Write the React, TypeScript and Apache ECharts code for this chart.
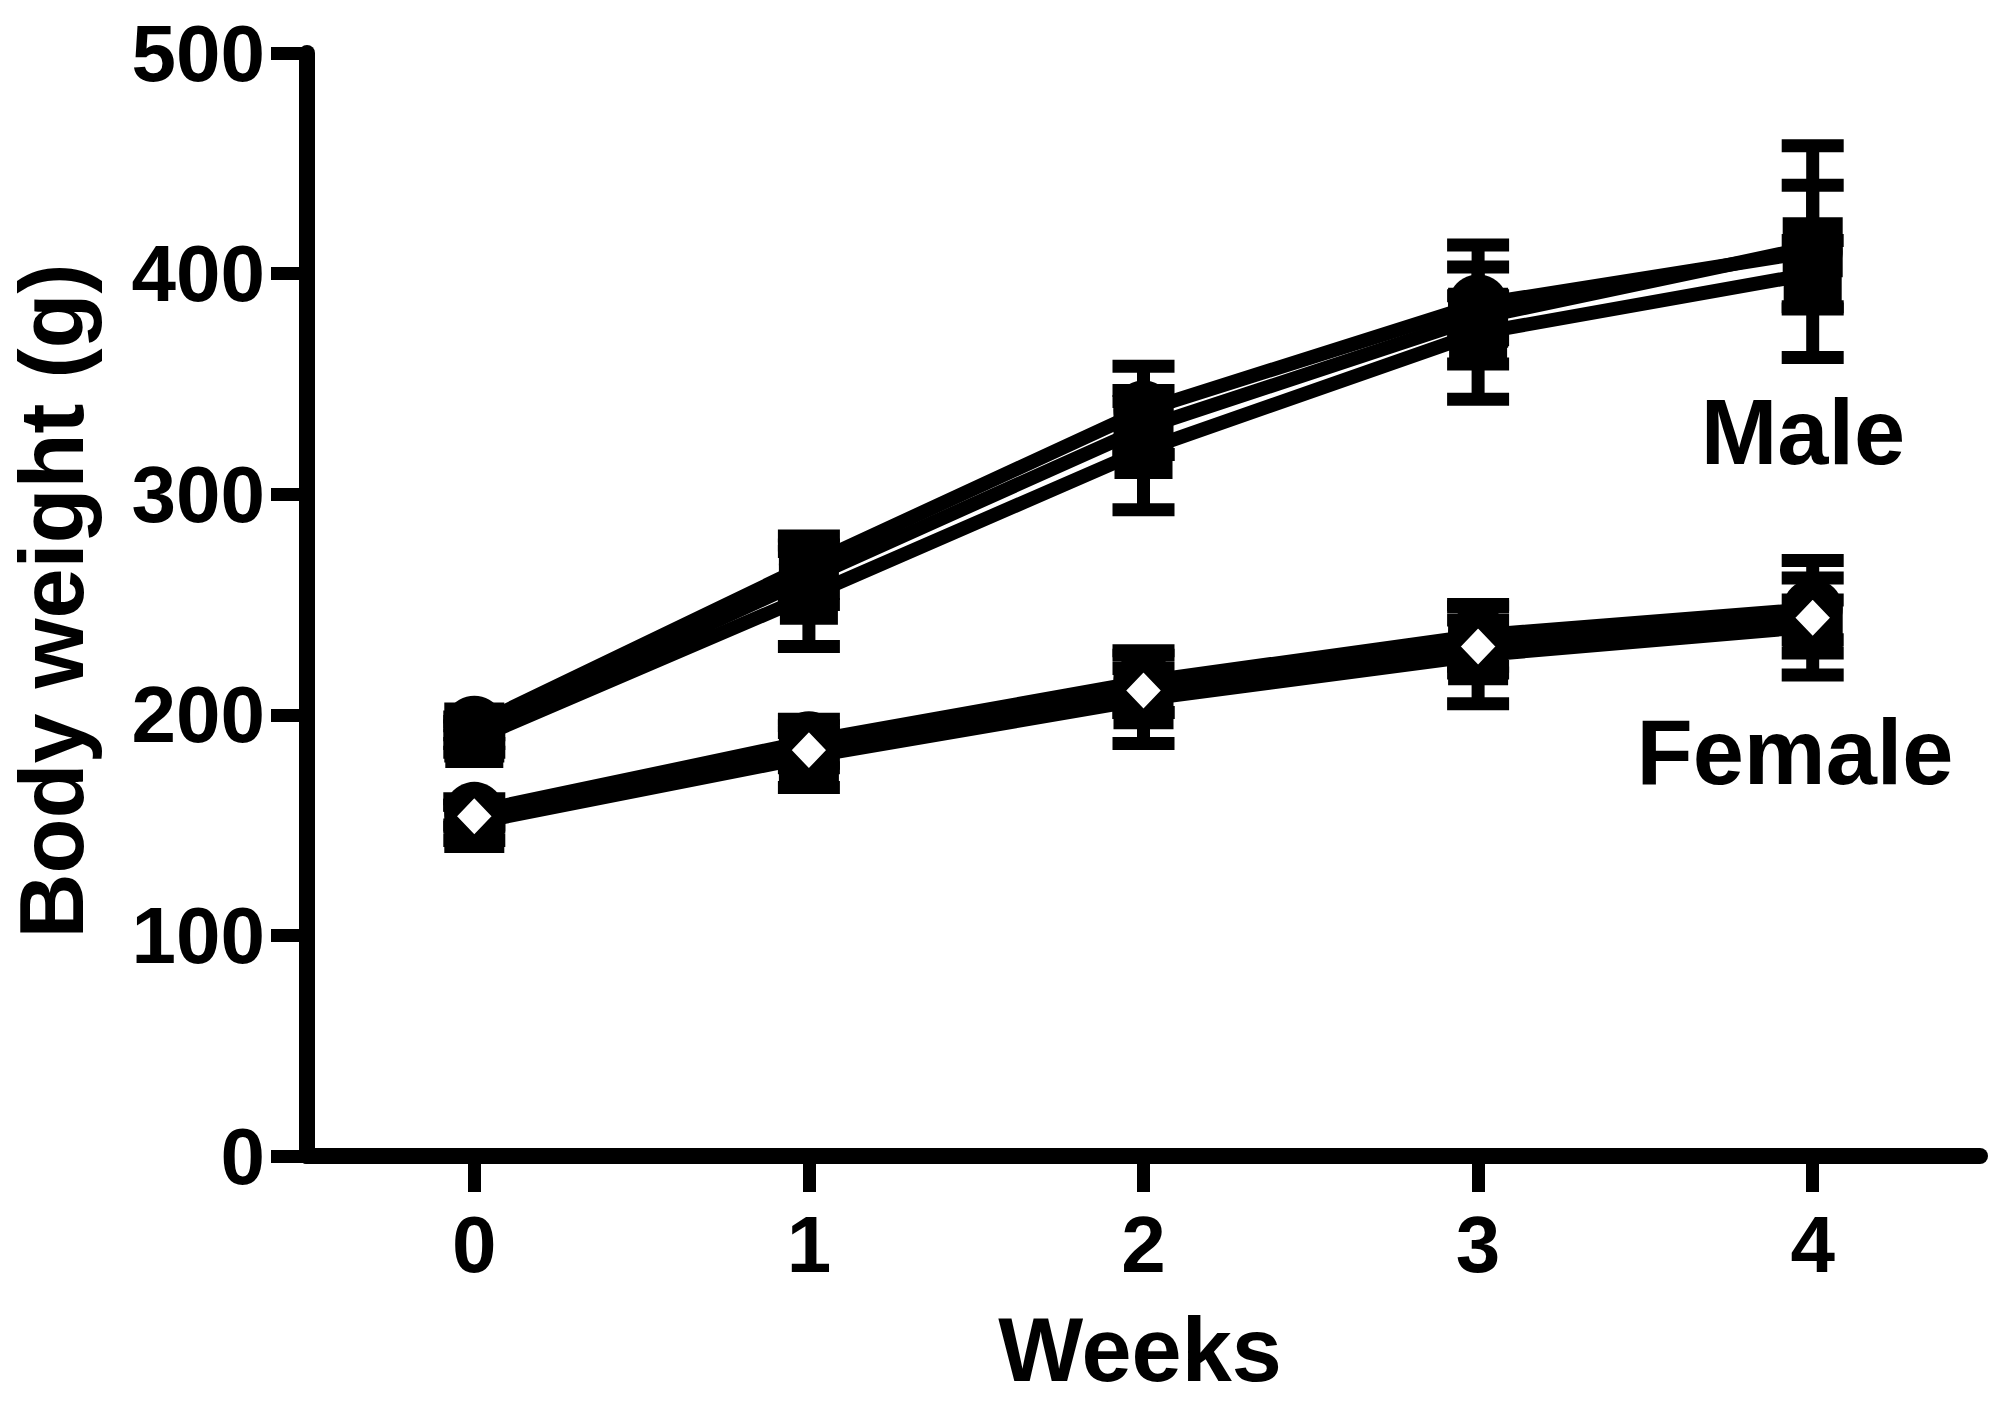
import React, { useEffect, useRef } from "react";
import * as echarts from "echarts";

// ---- data ----
const weeks = ["0", "1", "2", "3", "4"];
const yMin = 0;
const yMax = 500;
const yStep = 100;

// Male groups (mean, SD)
const maleSquare = [192, 262, 330, 380, 412];
const maleSquareSd = [5, 12, 12, 10, 28];
const maleCircle = [195, 268, 338, 386, 410];
const maleCircleSd = [4, 13, 20, 27, 48];
const maleSquare2 = [189, 254, 320, 373, 400];
const maleSquare2Sd = [6, 23, 27, 30, 15];

// Female groups (mean, SD)
const femaleSquare = [151, 181, 207, 227, 240];
const femaleSquareSd = [8, 14, 20, 22, 12];
const femaleCircle = [156, 188, 215, 236, 248];
const femaleCircleSd = [6, 10, 14, 14, 14];
const femaleDiamond = [154, 184, 211, 231, 244];
const femaleDiamondSd = [5, 8, 10, 12, 26];

const FONT = "'Liberation Sans', Arial, sans-serif";

function errorSeries(name: string, means: number[], sds: number[]) {
  return {
    name: name + " SD",
    type: "custom",
    z: 1,
    encode: { x: 0, y: [1, 2] },
    data: means.map((m, i) => [i, m - sds[i], m + sds[i]]),
    renderItem: (params: any, api: any) => {
      const x = api.value(0);
      const lo = api.coord([x, api.value(1)]);
      const hi = api.coord([x, api.value(2)]);
      const hw = 31;
      const style = { stroke: "#000", lineWidth: 13 };
      return {
        type: "group",
        children: [
          { type: "line", shape: { x1: hi[0], y1: hi[1], x2: lo[0], y2: lo[1] }, style },
          { type: "line", shape: { x1: hi[0] - hw, y1: hi[1], x2: hi[0] + hw, y2: hi[1] }, style },
          { type: "line", shape: { x1: lo[0] - hw, y1: lo[1], x2: lo[0] + hw, y2: lo[1] }, style },
        ],
      };
    },
  };
}

function lineSeries(name: string, values: number[], symbol: string, size: any, fill: string, border: number) {
  return {
    name,
    type: "line",
    z: 3,
    data: values,
    symbol,
    symbolSize: size,
    showAllSymbol: true,
    lineStyle: { color: "#000", width: 14 },
    itemStyle: { color: fill, borderColor: "#000", borderWidth: border },
    emphasis: { disabled: true },
  };
}

export default function App() {
  const ref = useRef<HTMLDivElement>(null);
  useEffect(() => {
    if (!ref.current) return;
    const chart = echarts.init(ref.current, undefined, { renderer: "svg" });
    const titleFont = `bold 90px ${FONT}`;
    chart.setOption({
      animation: false,
      backgroundColor: "#fff",
      grid: { left: 307, right: 12, top: 53, bottom: 250, containLabel: false },
      xAxis: {
        type: "category",
        data: weeks,
        boundaryGap: true,
        axisLine: { show: true, lineStyle: { color: "#000", width: 16 } },
        axisTick: { show: true, alignWithLabel: true, length: 36, lineStyle: { color: "#000", width: 13 } },
        axisLabel: { color: "#000", fontSize: 80, fontWeight: "bold", fontFamily: FONT, margin: 48 },
        splitLine: { show: false },
      },
      yAxis: {
        type: "value",
        min: yMin,
        max: yMax,
        interval: yStep,
        axisLine: { show: true, lineStyle: { color: "#000", width: 16 } },
        axisTick: { show: true, length: 36, lineStyle: { color: "#000", width: 13 } },
        axisLabel: { color: "#000", fontSize: 80, fontWeight: "bold", fontFamily: FONT, margin: 42 },
        splitLine: { show: false },
      },
      graphic: [
        {
          type: "text", x: 52, y: 601, rotation: Math.PI / 2,
          style: { text: "Body weight (g)", fill: "#000", font: titleFont, textAlign: "center", textVerticalAlign: "middle" },
        },
        {
          type: "text", x: 1140, y: 1350,
          style: { text: "Weeks", fill: "#000", font: titleFont, textAlign: "center", textVerticalAlign: "middle" },
        },
        {
          type: "text", x: 1803, y: 432,
          style: { text: "Male", fill: "#000", font: `bold 92px ${FONT}`, textAlign: "center", textVerticalAlign: "middle" },
        },
        {
          type: "text", x: 1795, y: 752,
          style: { text: "Female", fill: "#000", font: `bold 92px ${FONT}`, textAlign: "center", textVerticalAlign: "middle" },
        },
      ],
      series: [
        errorSeries("Male square", maleSquare, maleSquareSd),
        errorSeries("Male circle", maleCircle, maleCircleSd),
        errorSeries("Male square 2", maleSquare2, maleSquare2Sd),
        errorSeries("Female square", femaleSquare, femaleSquareSd),
        errorSeries("Female circle", femaleCircle, femaleCircleSd),
        errorSeries("Female diamond", femaleDiamond, femaleDiamondSd),
        lineSeries("Male square", maleSquare, "rect", 60, "#000", 0),
        lineSeries("Male circle", maleCircle, "circle", 60, "#000", 0),
        lineSeries("Male square 2", maleSquare2, "rect", 58, "#000", 0),
        lineSeries("Female square", femaleSquare, "rect", 60, "#000", 0),
        lineSeries("Female circle", femaleCircle, "circle", 60, "#000", 0),
        lineSeries("Female diamond", femaleDiamond, "diamond", [44, 46], "#fff", 7),
      ],
    });
    return () => chart.dispose();
  }, []);
  return <div ref={ref} style={{ position: "fixed", left: 0, top: 0, width: 1992, height: 1406 }} />;
}
